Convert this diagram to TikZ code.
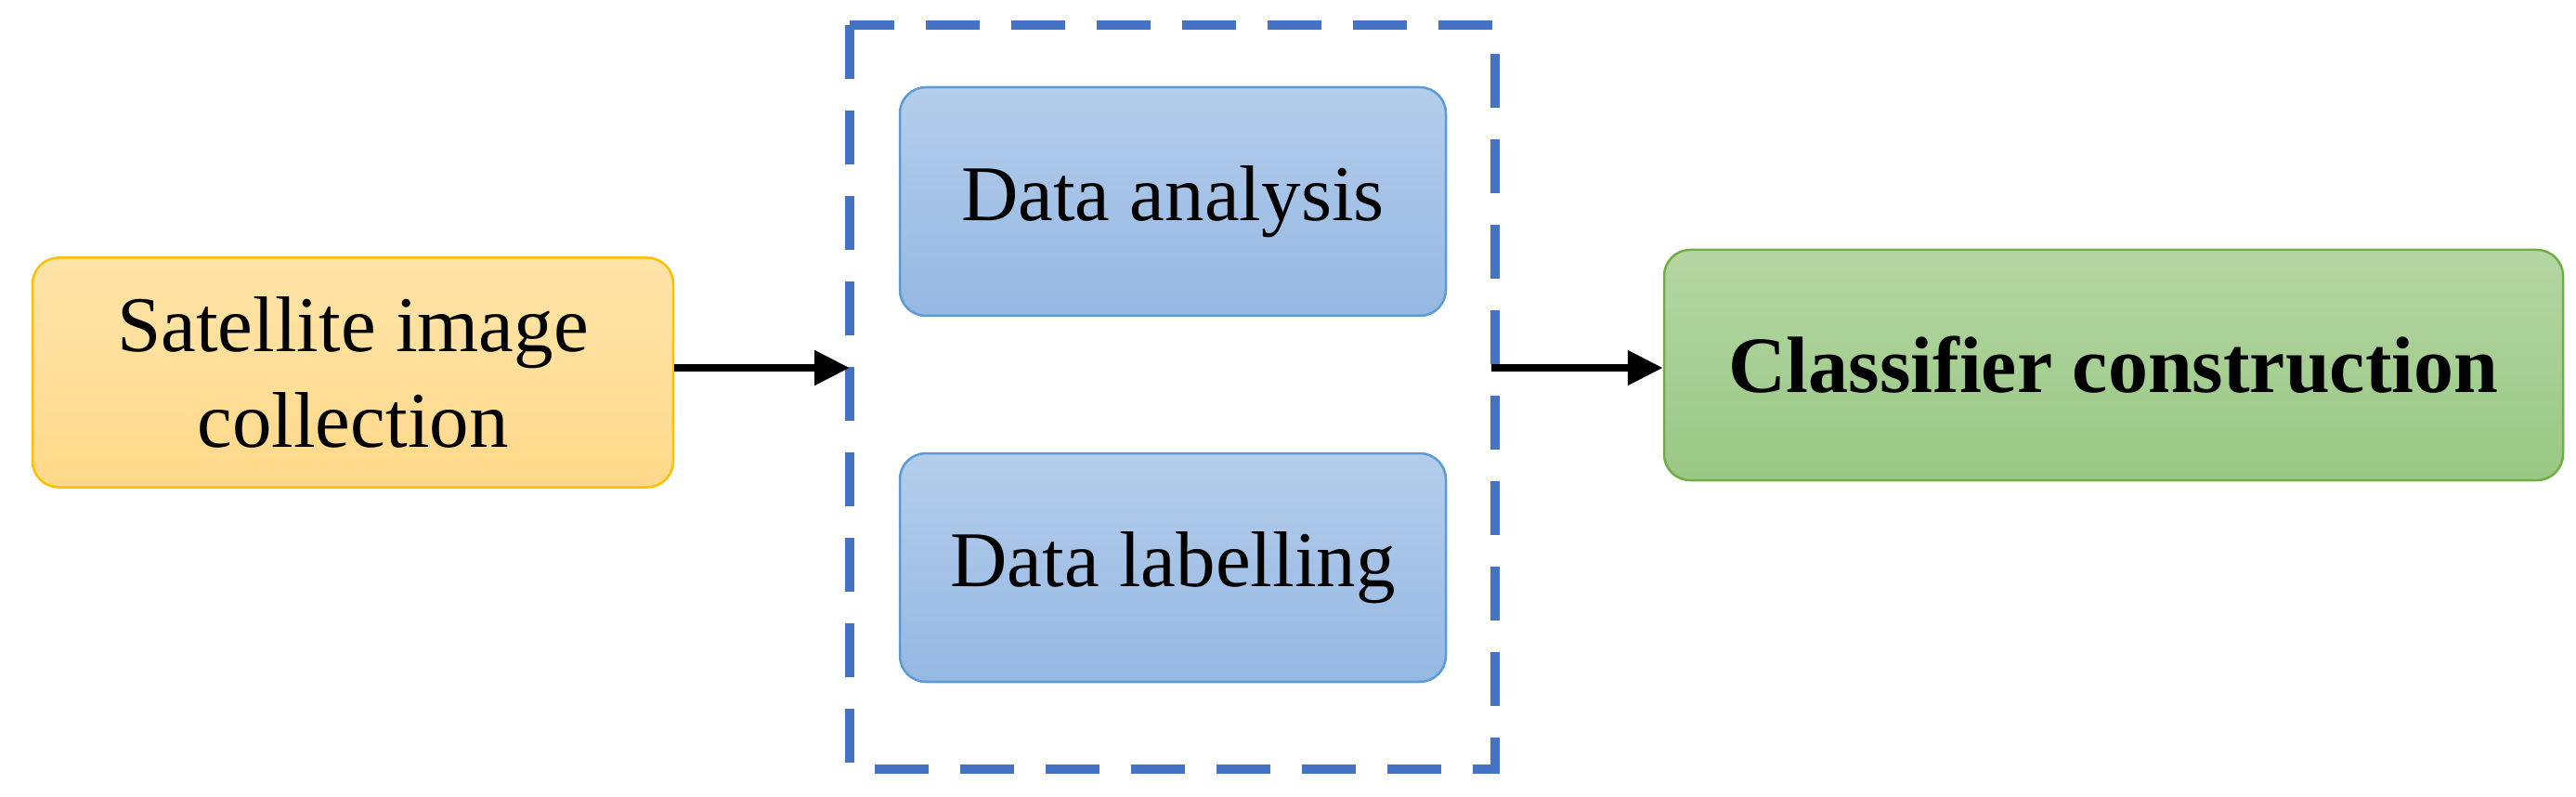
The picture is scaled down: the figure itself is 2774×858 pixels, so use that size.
\documentclass[tikz,border=0pt]{standalone}
\usepackage{fontspec}
\setmainfont{Liberation Serif}
\usetikzlibrary{arrows.meta}
\definecolor{orF}{HTML}{FFD98A}\definecolor{orT}{HTML}{FFE4A8}\definecolor{orB}{HTML}{FFC000}
\definecolor{blT}{HTML}{B4CDEB}\definecolor{blF}{HTML}{95B8E3}\definecolor{blB}{HTML}{5B9BD5}
\definecolor{grT}{HTML}{B5D6A3}\definecolor{grF}{HTML}{98C884}\definecolor{grB}{HTML}{70AD47}
\definecolor{dashblue}{HTML}{4472C4}
\begin{document}
\begin{tikzpicture}[x=1pt,y=-1pt,
 box/.style={rounded corners=28pt,line width=2.5pt,align=center,font=\fontsize{85}{103}\selectfont},
 arr/.style={line width=8pt,-{Triangle[length=38pt,width=36pt]}}]
\useasboundingbox (0,0) rectangle (2774,858);
\node[box,draw=orB,top color=orT,bottom color=orF,minimum width=690pt,minimum height=247pt] (sat) at (380,401) {Satellite image\\collection};
\draw[dashblue,line width=10pt,dash pattern=on 58pt off 34pt] (915,27) rectangle (1610,828);
\coordinate (gl) at (915,396); \coordinate (gr) at (1606,396);
\node[box,draw=blB,top color=blT,bottom color=blF,minimum width=588pt,minimum height=246pt] (ana) at (1263,217) {Data analysis};
\node[box,draw=blB,top color=blT,bottom color=blF,minimum width=588pt,minimum height=246pt] (lab) at (1263,611) {Data labelling};
\node[box,draw=grB,top color=grT,bottom color=grF,minimum width=968pt,minimum height=248pt,font=\fontsize{86}{103}\selectfont\bfseries] (cls) at (2276,393) {Classifier construction};
\draw[arr] (sat.east|-gl) -- (gl);
\draw[arr] (gr) -- (cls.west|-gr);
\end{tikzpicture}
\end{document}
